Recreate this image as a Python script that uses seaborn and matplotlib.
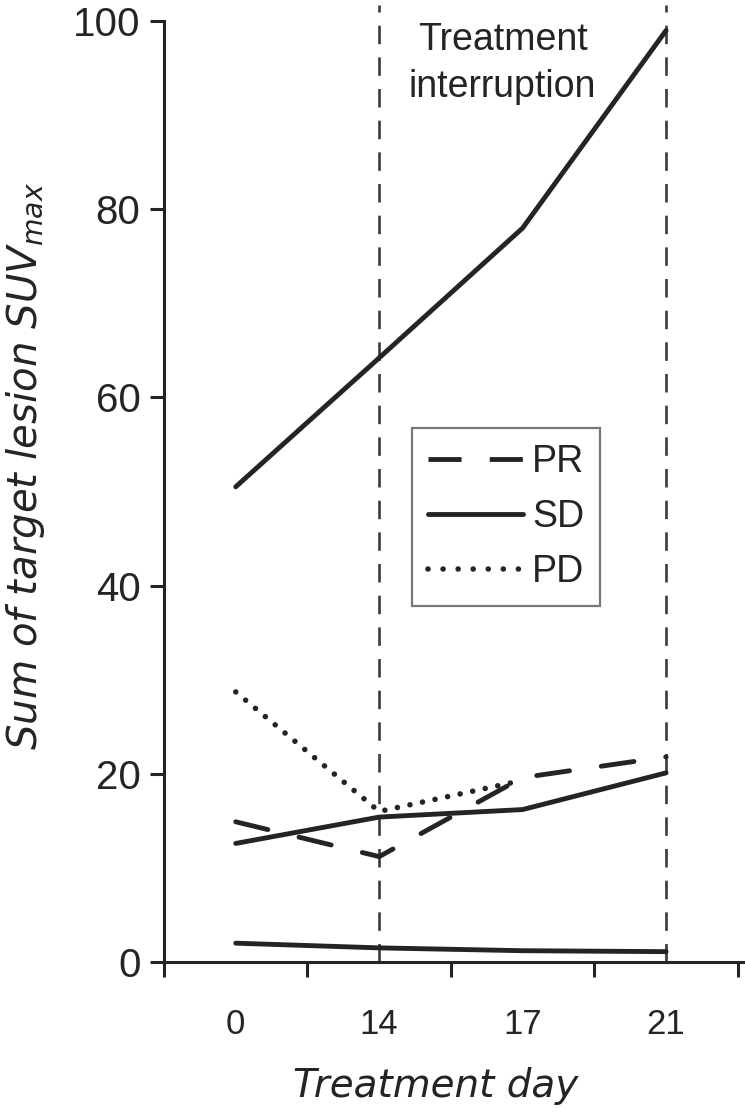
import numpy as np
import pandas as pd
import matplotlib
matplotlib.use("Agg")
import matplotlib.pyplot as plt
import seaborn as sns
from matplotlib.lines import Line2D

# ---- data ----
days = ["0", "14", "17", "21"]
sd_high = [50.5, 64.2, 78.0, 99.0]
sd_mid = [12.6, 15.4, 16.2, 20.1]
sd_low = [2.0, 1.5, 1.2, 1.1]
pr_vals = [14.9, 11.2, 19.6, 21.8]
pd_vals = [28.7, 16.0, 19.3, np.nan]
interruption_days = ["14", "21"]
yticks = [0, 20, 40, 60, 80, 100]
legend_labels = ["PR", "SD", "PD"]

sns.set_theme(style="ticks")
plt.rcParams["font.family"] = ["Liberation Sans", "DejaVu Sans"]
plt.rcParams["mathtext.fontset"] = "dejavusans"
plt.rcParams["mathtext.default"] = "it"

fig = plt.figure(figsize=(7.45, 11.19), dpi=100)
ax_left = 164 / 745
ax_bottom = (1119 - 962) / 1119
ax_top_px = 5
ax = fig.add_axes([ax_left, ax_bottom, 1 - ax_left, (962 - ax_top_px) / 1119])

pos = {d: i + 1 for i, d in enumerate(days)}
x = [pos[d] for d in days]
ink = "#242424"
lw = 3.5
lw_dot = 4.0

series = [
    (sd_high, None, lw),
    (sd_mid, None, lw),
    (sd_low, None, lw),
    (pr_vals, (6.8, 6.6), lw),
    (pd_vals, (0.01, 2.3), lw_dot),
]
for vals, dash, w in series:
    df = pd.DataFrame({"x": x, "y": vals}).dropna()
    sns.lineplot(data=df, x="x", y="y", color=ink, linewidth=w, legend=False,
                 ax=ax, estimator=None)
    ln = ax.lines[-1]
    if dash is not None:
        ln.set_dashes(dash)
        ln.set_dash_capstyle("round")
    ln.set_solid_capstyle("round")

for d in interruption_days:
    ax.axvline(pos[d], ymin=0, ymax=1, color="#3a3a3a", linewidth=1.9,
               dashes=(7.0, 5.0), zorder=1)

ax.text(2.86, 95.5, "Treatment\ninterruption", ha="center", va="center",
        fontsize=27, color=ink, linespacing=1.38)

ax.set_xlim(0.5, 4.55)
ax.set_ylim(0, (962 - ax_top_px) / 9.41)

ax.set_xticks(x)
ax.set_xticklabels(days)
ax.set_xticks([0.5, 1.5, 2.5, 3.5, 4.5], minor=True)
ax.tick_params(axis="x", which="major", length=0, pad=33, labelsize=25, colors=ink)
ax.tick_params(axis="x", which="minor", length=11, width=2.2, direction="out", color=ink)
ax.set_yticks(yticks)
ax.tick_params(axis="y", which="major", length=10, width=2.2, pad=7, labelsize=29, colors=ink)

for s in ["top", "right"]:
    ax.spines[s].set_visible(False)
for s in ["left", "bottom"]:
    ax.spines[s].set_linewidth(2.2)
    ax.spines[s].set_color(ink)
ax.spines["left"].set_bounds(0, 100)

ax.set_xlabel("Treatment day", fontsize=28, fontstyle="italic", color=ink,
              family="DejaVu Sans")
ax.xaxis.set_label_coords(436 / 745, (1119 - 1097) / 1119, transform=fig.transFigure)
ax.xaxis.label.set_va("baseline")
ax.set_ylabel(r"Sum of target lesion SUV$_{max}$", fontsize=29, fontstyle="italic",
              color=ink, family="DejaVu Sans")
ax.yaxis.set_label_coords(47 / 745, (1119 - 466) / 1119, transform=fig.transFigure)

handles = [
    Line2D([], [], color=ink, linewidth=lw, dashes=(6.8, 5.8), dash_capstyle="butt"),
    Line2D([], [], color=ink, linewidth=lw),
    Line2D([], [], color=ink, linewidth=lw_dot, dashes=(0.01, 2.7), dash_capstyle="round"),
]
leg = ax.legend(handles, legend_labels, loc="upper left",
                bbox_to_anchor=(412 / 745, 1 - 428 / 1119), bbox_transform=fig.transFigure,
                borderaxespad=0, fontsize=27, handlelength=2.53, handletextpad=0.25,
                labelspacing=0.51, borderpad=0.42, fancybox=False, frameon=True)
leg.get_frame().set_edgecolor("#555555")
leg.get_frame().set_linewidth(1.6)
for t in leg.get_texts():
    t.set_color(ink)

fig.savefig("out.png", dpi=100)
